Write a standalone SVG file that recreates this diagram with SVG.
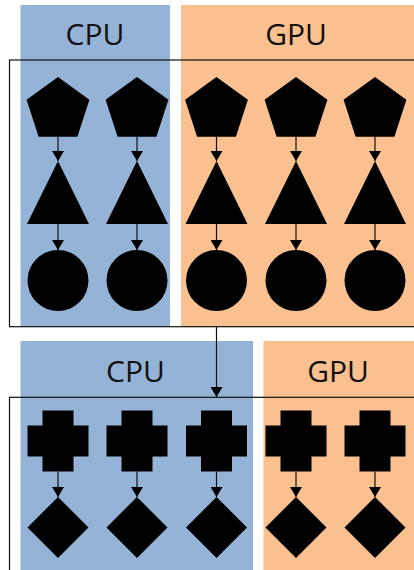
<svg xmlns="http://www.w3.org/2000/svg" width="414" height="570" viewBox="0 0 414 570">
  <style>
    .cpu { fill: #95b3d7; }
    .gpu { fill: #fac090; }
    .label { font-family: "Open Sans", "Liberation Sans", sans-serif; font-size: 30px; fill: #111; text-anchor: middle; }
    .frame { fill: none; stroke: #111; stroke-width: 1.2; }
    .shape { fill: #000; }
    .edge { stroke: #111; stroke-width: 1.2; fill: none; marker-end: url(#head); }
  </style>
  <defs>
    <marker id="head" markerUnits="userSpaceOnUse" markerWidth="12" markerHeight="12" viewBox="0 0 10 12" refX="10" refY="6" orient="auto">
      <path d="M0,0 L10,6 L0,12 Z" fill="#000"/>
    </marker>
    <polygon id="pent" points="0,-33 31.4,-10.2 19.4,26.7 -19.4,26.7 -31.4,-10.2"/>
    <polygon id="tri" points="0,0 31,63 -31,63"/>
    <polygon id="cross" points="-15.5,-30.5 15.5,-30.5 15.5,-15.5 30.5,-15.5 30.5,15.5 15.5,15.5 15.5,30.5 -15.5,30.5 -15.5,15.5 -30.5,15.5 -30.5,-15.5 -15.5,-15.5"/>
    <polygon id="diam" points="0,-30.5 30.5,0 0,30.5 -30.5,0"/>
  </defs>

  <!-- device lanes -->
  <g id="lane-top-cpu">
    <rect class="cpu" x="20.5" y="5" width="149.5" height="322"/>
    <text class="label" x="95" y="45">CPU</text>
  </g>
  <g id="lane-top-gpu">
    <rect class="gpu" x="181" y="5" width="233" height="322"/>
    <text class="label" x="296" y="45">GPU</text>
  </g>
  <g id="lane-bottom-cpu">
    <rect class="cpu" x="20.5" y="341" width="232.5" height="229"/>
    <text class="label" x="135.5" y="382">CPU</text>
  </g>
  <g id="lane-bottom-gpu">
    <rect class="gpu" x="263.5" y="341" width="150.5" height="229"/>
    <text class="label" x="338" y="382">GPU</text>
  </g>

  <!-- stage frames -->
  <g id="frames">
    <rect class="frame" x="9.5" y="60" width="420" height="266.7"/>
    <rect class="frame" x="9.5" y="397.3" width="420" height="200"/>
  </g>

  <!-- stage 1 nodes -->
  <g id="p1" class="shape"><use href="#pent" x="58" y="110"/></g>
  <g id="p2" class="shape"><use href="#pent" x="137" y="110"/></g>
  <g id="p3" class="shape"><use href="#pent" x="216.5" y="110"/></g>
  <g id="p4" class="shape"><use href="#pent" x="296" y="110"/></g>
  <g id="p5" class="shape"><use href="#pent" x="375" y="110"/></g>

  <g id="t1" class="shape"><use href="#tri" x="58" y="161"/></g>
  <g id="t2" class="shape"><use href="#tri" x="137" y="161"/></g>
  <g id="t3" class="shape"><use href="#tri" x="216.5" y="161"/></g>
  <g id="t4" class="shape"><use href="#tri" x="296" y="161"/></g>
  <g id="t5" class="shape"><use href="#tri" x="375" y="161"/></g>

  <g id="c1" class="shape"><circle cx="58" cy="280.5" r="30.5"/></g>
  <g id="c2" class="shape"><circle cx="137" cy="280.5" r="30.5"/></g>
  <g id="c3" class="shape"><circle cx="216.5" cy="280.5" r="30.5"/></g>
  <g id="c4" class="shape"><circle cx="296" cy="280.5" r="30.5"/></g>
  <g id="c5" class="shape"><circle cx="375" cy="280.5" r="30.5"/></g>

  <!-- stage 2 nodes -->
  <g id="x1" class="shape"><use href="#cross" x="58" y="441"/></g>
  <g id="x2" class="shape"><use href="#cross" x="137" y="441"/></g>
  <g id="x3" class="shape"><use href="#cross" x="216.5" y="441"/></g>
  <g id="x4" class="shape"><use href="#cross" x="296" y="441"/></g>
  <g id="x5" class="shape"><use href="#cross" x="375" y="441"/></g>

  <g id="d1" class="shape"><use href="#diam" x="58" y="527.5"/></g>
  <g id="d2" class="shape"><use href="#diam" x="137" y="527.5"/></g>
  <g id="d3" class="shape"><use href="#diam" x="216.5" y="527.5"/></g>
  <g id="d4" class="shape"><use href="#diam" x="296" y="527.5"/></g>
  <g id="d5" class="shape"><use href="#diam" x="375" y="527.5"/></g>

  <!-- connectors -->
  <g id="connectors">
    <line class="edge" x1="58" y1="136.5" x2="58" y2="161"/>
    <line class="edge" x1="137" y1="136.5" x2="137" y2="161"/>
    <line class="edge" x1="216.5" y1="136.5" x2="216.5" y2="161"/>
    <line class="edge" x1="296" y1="136.5" x2="296" y2="161"/>
    <line class="edge" x1="375" y1="136.5" x2="375" y2="161"/>

    <line class="edge" x1="58" y1="224" x2="58" y2="250"/>
    <line class="edge" x1="137" y1="224" x2="137" y2="250"/>
    <line class="edge" x1="216.5" y1="224" x2="216.5" y2="250"/>
    <line class="edge" x1="296" y1="224" x2="296" y2="250"/>
    <line class="edge" x1="375" y1="224" x2="375" y2="250"/>

    <line class="edge" x1="216.5" y1="327" x2="216.5" y2="397"/>

    <line class="edge" x1="58" y1="471.5" x2="58" y2="497"/>
    <line class="edge" x1="137" y1="471.5" x2="137" y2="497"/>
    <line class="edge" x1="216.5" y1="471.5" x2="216.5" y2="497"/>
    <line class="edge" x1="296" y1="471.5" x2="296" y2="497"/>
    <line class="edge" x1="375" y1="471.5" x2="375" y2="497"/>
  </g>
</svg>
